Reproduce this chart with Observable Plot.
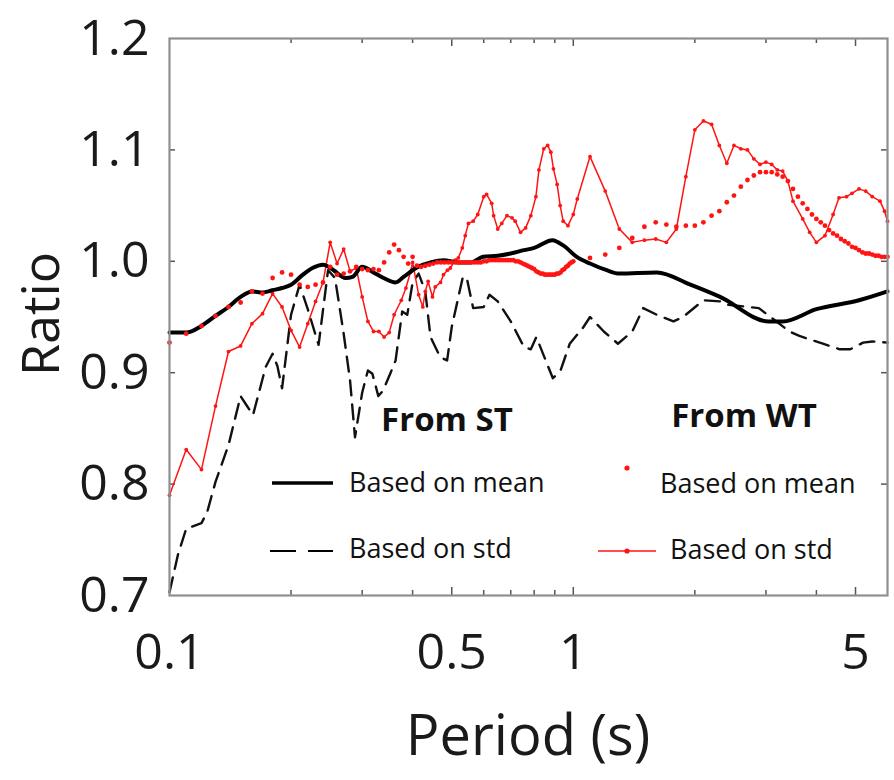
<!DOCTYPE html>
<html>
<head>
<meta charset="utf-8">
<script src="https://cdn.jsdelivr.net/npm/d3@7"></script>
<script src="https://cdn.jsdelivr.net/npm/@observablehq/plot@0.6"></script>
<style>
  html, body { margin: 0; padding: 0; background: #fff; }
  #chart { width: 894px; height: 780px; }
</style>
</head>
<body>
<div id="chart"></div>
<script>
// ---- Data ----
const yTicks = [0.7, 0.8, 0.9, 1.0, 1.1, 1.2];
const xTickLabels = [0.1, 0.5, 1, 5];
const xMinorTicks = [0.2, 0.3, 0.4, 0.6, 0.7, 0.8, 0.9, 2, 3, 4];
const xMajorTicks = [0.5, 1, 5];
const yInnerTicks = [0.8, 0.9, 1.0, 1.1];

// From ST, based on mean (black solid)
const stMeanPeriod = [0.100,0.110,0.120,0.130,0.140,0.150,0.160,0.170,0.180,0.190,0.200,0.214,0.226,0.240,0.245,0.255,0.273,0.284,0.300,0.320,0.339,0.363,0.380,0.412,0.443,0.477,0.517,0.556,0.598,0.650,0.700,0.755,0.800,0.888,0.946,1.02,1.1,1.21,1.3,1.61,1.95,2.31,3.05,3.3,4.0,5.1,6.0];
const stMeanRatio  = [0.936,0.936,0.942,0.951,0.959,0.968,0.973,0.972,0.974,0.976,0.979,0.988,0.994,0.997,0.996,0.992,0.985,0.986,0.995,0.990,0.985,0.981,0.986,0.995,0.999,1.001,0.999,0.999,1.004,1.005,1.007,1.010,1.012,1.019,1.014,1.004,0.998,0.992,0.989,0.990,0.979,0.968,0.946,0.946,0.957,0.965,0.973];

// From ST, based on std (black dashed)
const stStdPeriod = [0.100,0.105,0.110,0.120,0.124,0.130,0.140,0.150,0.155,0.161,0.164,0.173,0.180,0.185,0.190,0.200,0.210,0.220,0.234,0.247,0.257,0.270,0.280,0.288,0.300,0.310,0.318,0.329,0.338,0.352,0.363,0.377,0.388,0.400,0.414,0.430,0.443,0.468,0.487,0.500,0.532,0.544,0.565,0.600,0.620,0.650,0.700,0.755,0.785,0.810,0.890,0.930,0.980,1.06,1.1,1.19,1.29,1.4,1.49,1.61,1.77,1.87,2.1,2.31,2.41,2.88,3.43,3.63,4.15,4.57,4.85,5.22,5.5,6.0];
const stStdRatio  = [0.703,0.737,0.760,0.765,0.775,0.802,0.835,0.879,0.871,0.862,0.873,0.905,0.917,0.906,0.886,0.952,0.979,0.957,0.925,0.992,0.985,0.935,0.893,0.842,0.882,0.902,0.899,0.879,0.884,0.899,0.911,0.955,0.952,0.981,0.989,0.973,0.932,0.914,0.911,0.941,0.985,0.986,0.958,0.959,0.970,0.964,0.946,0.923,0.921,0.932,0.895,0.902,0.926,0.941,0.950,0.937,0.926,0.937,0.958,0.952,0.946,0.950,0.965,0.964,0.961,0.958,0.937,0.933,0.926,0.921,0.921,0.927,0.928,0.927];

// From WT, based on mean (red dots)
const wtMeanPeriod = [0.10,0.11,0.12,0.13,0.14,0.15,0.16,0.17,0.18,0.19,0.20,0.21,0.22,0.23,0.24,0.25,0.26,0.27,0.28,0.29,0.30,0.31,0.32,0.33,0.34,0.35,0.36,0.37,0.38,0.39,0.40,0.41,0.42,0.43,0.44,0.45,0.46,0.47,0.48,0.49,0.50,0.51,0.52,0.53,0.54,0.55,0.56,0.57,0.58,0.59,0.60,0.61,0.62,0.63,0.64,0.65,0.66,0.67,0.68,0.69,0.70,0.71,0.72,0.73,0.74,0.75,0.76,0.77,0.78,0.79,0.80,0.81,0.82,0.83,0.84,0.85,0.86,0.87,0.88,0.89,0.90,0.91,0.92,0.93,0.94,0.95,0.96,0.97,0.98,0.99,1.00,1.1,1.2,1.3,1.4,1.5,1.6,1.7,1.8,1.9,2.0,2.1,2.2,2.3,2.4,2.5,2.6,2.7,2.8,2.9,3.0,3.1,3.2,3.3,3.4,3.5,3.6,3.7,3.8,3.9,4.0,4.1,4.2,4.3,4.4,4.5,4.6,4.7,4.8,4.9,5.0,5.1,5.2,5.3,5.4,5.5,5.6,5.7,5.8,5.9,6.0];
const wtMeanRatio  = [0.927,0.935,0.942,0.951,0.959,0.963,0.973,0.971,0.985,0.990,0.988,0.979,0.977,0.979,0.981,0.995,0.988,0.989,0.991,0.995,0.993,0.992,0.993,0.992,0.999,1.008,1.015,1.010,1.004,0.998,1.004,0.996,0.995,0.996,0.997,0.998,0.999,0.999,0.999,0.999,0.999,0.999,0.999,0.999,0.999,0.999,0.999,0.999,0.999,0.999,1.000,1.000,1.001,1.001,1.001,1.001,1.001,1.001,1.001,1.001,1.001,1.001,1.000,1.000,0.999,0.998,0.997,0.996,0.995,0.994,0.993,0.991,0.990,0.989,0.989,0.988,0.988,0.988,0.988,0.988,0.988,0.989,0.989,0.990,0.992,0.993,0.995,0.996,0.998,0.999,1.000,1.003,1.006,1.012,1.021,1.031,1.035,1.033,1.031,1.032,1.032,1.035,1.041,1.045,1.053,1.059,1.067,1.073,1.077,1.080,1.080,1.080,1.078,1.076,1.072,1.065,1.058,1.052,1.047,1.042,1.038,1.035,1.032,1.028,1.025,1.023,1.020,1.018,1.016,1.013,1.012,1.010,1.008,1.007,1.007,1.006,1.005,1.005,1.004,1.004,1.004];

// From WT, based on std (red line with markers)
const wtStdPeriod = [0.100,0.110,0.120,0.130,0.140,0.150,0.160,0.170,0.180,0.190,0.200,0.210,0.220,0.230,0.240,0.250,0.260,0.270,0.280,0.290,0.300,0.310,0.320,0.330,0.340,0.350,0.360,0.375,0.385,0.395,0.400,0.414,0.424,0.430,0.437,0.448,0.455,0.469,0.477,0.488,0.496,0.510,0.519,0.531,0.540,0.550,0.565,0.580,0.600,0.610,0.628,0.635,0.650,0.665,0.685,0.705,0.718,0.740,0.762,0.785,0.808,0.822,0.845,0.864,0.880,0.893,0.912,0.928,0.944,0.970,1.000,1.023,1.1,1.2,1.3,1.4,1.5,1.6,1.7,1.8,1.9,2.0,2.1,2.2,2.3,2.4,2.5,2.6,2.7,2.8,2.9,3.0,3.1,3.2,3.3,3.4,3.5,3.7,3.85,4.0,4.2,4.4,4.55,4.75,4.9,5.1,5.3,5.5,5.75,5.9,6.0];
const wtStdRatio  = [0.790,0.831,0.813,0.870,0.919,0.924,0.944,0.953,0.971,0.959,0.938,0.923,0.944,0.964,0.981,1.017,0.998,1.011,0.991,0.994,0.968,0.946,0.937,0.937,0.932,0.936,0.952,0.965,0.976,0.990,0.999,0.970,0.959,0.973,0.982,0.968,0.977,0.981,0.988,0.992,0.994,1.001,1.003,1.012,1.023,1.034,1.036,1.042,1.058,1.060,1.052,1.041,1.029,1.034,1.041,1.039,1.036,1.026,1.030,1.041,1.058,1.082,1.101,1.104,1.098,1.083,1.069,1.050,1.036,1.032,1.042,1.056,1.094,1.063,1.029,1.017,1.019,1.020,1.017,1.029,1.076,1.118,1.126,1.123,1.104,1.088,1.104,1.101,1.100,1.092,1.087,1.089,1.087,1.082,1.081,1.072,1.054,1.038,1.026,1.017,1.023,1.042,1.057,1.058,1.061,1.065,1.063,1.058,1.054,1.045,1.036];

const toRows = (ps, rs) => ps.map((p, i) => ({period: p, ratio: rs[i]}));
const stMean = toRows(stMeanPeriod, stMeanRatio);
const stStd  = toRows(stStdPeriod, stStdRatio);
const wtMean = toRows(wtMeanPeriod, wtMeanRatio);
const wtStd  = toRows(wtStdPeriod, wtStdRatio);

const RED = "#ff1414";
const FRAME = "#8f8f8f";

const chart = Plot.plot({
  width: 894,
  height: 780,
  marginLeft: 169,
  marginRight: 7,
  marginTop: 38,
  marginBottom: 185,
  style: {fontFamily: "'Open Sans', sans-serif", background: "#fff", color: "#1a1a1a"},
  x: {type: "log", domain: [0.1, 6]},
  y: {domain: [0.7, 1.2]},
  marks: [
    Plot.axisY({ticks: yTicks, tickSize: 0, tickPadding: 20, tickFormat: d3.format(".1f"), fontSize: 50, label: null}),
    Plot.axisX({ticks: xTickLabels, tickSize: 0, tickPadding: 38, tickFormat: d => String(d), fontSize: 50, label: null}),
    // inward ticks
    Plot.ruleX(xMinorTicks, {x: d => d, y1: 0.7, y2: 0.7, insetBottom: 5, stroke: "#555", strokeWidth: 1.5}),
    Plot.ruleX(xMajorTicks, {x: d => d, y1: 0.7, y2: 0.7, insetBottom: 8, stroke: "#555", strokeWidth: 1.5}),
    Plot.ruleX(xMinorTicks, {x: d => d, y1: 1.2, y2: 1.2, insetTop: 5, stroke: "#555", strokeWidth: 1.5}),
    Plot.ruleX(xMajorTicks, {x: d => d, y1: 1.2, y2: 1.2, insetTop: 8, stroke: "#555", strokeWidth: 1.5}),
    Plot.ruleY(yInnerTicks, {y: d => d, x1: 0.1, x2: 0.1, insetLeft: 6, stroke: "#555", strokeWidth: 1.5}),
    Plot.ruleY(yInnerTicks, {y: d => d, x1: 6, x2: 6, insetRight: 6, stroke: "#555", strokeWidth: 1.5}),
    // series
    Plot.line(stStd, {x: "period", y: "ratio", stroke: "#111", strokeWidth: 2.4, strokeDasharray: "15,9"}),
    Plot.line(wtStd, {x: "period", y: "ratio", stroke: RED, strokeWidth: 1.5}),
    Plot.dot(wtStd, {x: "period", y: "ratio", r: 1.9, fill: RED}),
    Plot.line(stMean, {x: "period", y: "ratio", stroke: "#000", strokeWidth: 4, curve: "monotone-x"}),
    Plot.dot(wtMean, {x: "period", y: "ratio", r: 2.4, fill: RED}),
    Plot.frame({stroke: FRAME, strokeWidth: 2.2})
  ]
});
document.getElementById("chart").appendChild(chart);

// ---- Titles and legend (text kept as real SVG text) ----
const svg = d3.select(chart);
const font = "'Open Sans', sans-serif";
svg.append("text").attr("x", 528).attr("y", 740).attr("text-anchor", "middle")
  .attr("dominant-baseline", "middle").attr("font-family", font).attr("font-size", 56)
  .attr("fill", "#1a1a1a").text("Period (s)");
svg.append("text").attr("transform", "translate(45,314) rotate(-90)").attr("text-anchor", "middle")
  .attr("dominant-baseline", "middle").attr("font-family", font).attr("font-size", 52)
  .attr("fill", "#1a1a1a").text("Ratio");

const lg = svg.append("g").attr("font-family", font).attr("fill", "#111");
lg.append("text").attr("x", 447).attr("y", 422).attr("text-anchor", "middle").attr("dominant-baseline", "middle")
  .attr("font-size", 33).attr("font-weight", "bold").text("From ST");
lg.append("text").attr("x", 744).attr("y", 418).attr("text-anchor", "middle").attr("dominant-baseline", "middle")
  .attr("font-size", 33).attr("font-weight", "bold").text("From WT");

lg.append("line").attr("x1", 272).attr("x2", 333).attr("y1", 483).attr("y2", 483).attr("stroke", "#000").attr("stroke-width", 3.5);
lg.append("text").attr("x", 349).attr("y", 485).attr("text-anchor", "start").attr("dominant-baseline", "middle").attr("font-size", 27).text("Based on mean");
lg.append("line").attr("x1", 270).attr("x2", 333).attr("y1", 551).attr("y2", 551).attr("stroke", "#000").attr("stroke-width", 2).attr("stroke-dasharray", "26,12");
lg.append("text").attr("x", 349).attr("y", 551).attr("text-anchor", "start").attr("dominant-baseline", "middle").attr("font-size", 27).text("Based on std");

lg.append("circle").attr("cx", 627).attr("cy", 468).attr("r", 2.6).attr("fill", RED);
lg.append("text").attr("x", 660).attr("y", 486).attr("text-anchor", "start").attr("dominant-baseline", "middle").attr("font-size", 27).text("Based on mean");
lg.append("line").attr("x1", 598).attr("x2", 656).attr("y1", 551).attr("y2", 551).attr("stroke", RED).attr("stroke-width", 1.5);
lg.append("circle").attr("cx", 627).attr("cy", 551).attr("r", 2.6).attr("fill", RED);
lg.append("text").attr("x", 670).attr("y", 552).attr("text-anchor", "start").attr("dominant-baseline", "middle").attr("font-size", 27).text("Based on std");
</script>
</body>
</html>
